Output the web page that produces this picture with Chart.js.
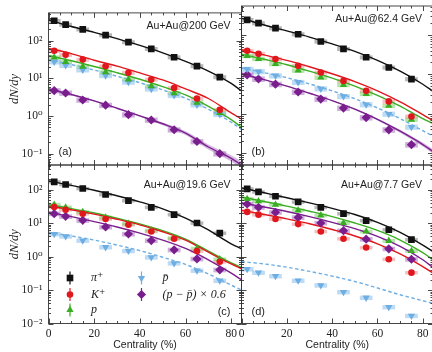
<!DOCTYPE html>
<html>
<head>
<meta charset="utf-8">
<script src="https://cdn.jsdelivr.net/npm/chart.js@4.4.1/dist/chart.umd.min.js"></script>
<style>
  html, body { margin: 0; padding: 0; background: #ffffff; }
  body { width: 432px; height: 352px; overflow: hidden; position: relative; }
  canvas { position: absolute; left: 0; top: 0; }
</style>
</head>
<body>
<canvas id="c0" width="440" height="352"></canvas>
<canvas id="c1" width="440" height="352"></canvas>
<canvas id="c2" width="440" height="352"></canvas>
<canvas id="c3" width="440" height="352"></canvas>
<script>
// ---------- values ----------
const CENT = [2.5, 7.5, 15, 25, 35, 45, 55, 65, 75];           // centrality bin centres (%)
const MODEL_X = [0, 10, 20, 30, 40, 50, 60, 70, 80, 84.5];     // model curve sample points (%)
const X_TICKS = [0, 20, 40, 60, 80];
const Y_TICKS = [0.01, 0.1, 1, 10, 100];
const Y_TICK_LABELS = ['10\u207B\u00B2', '10\u207B\u00B9', '10\u2070', '10\u00B9', '10\u00B2'];
const PANEL_TITLES = ['Au+Au@200 GeV', 'Au+Au@62.4 GeV', 'Au+Au@19.6 GeV', 'Au+Au@7.7 GeV'];
const PANEL_TAGS = ['(a)', '(b)', '(c)', '(d)'];
const SPECIES = ['\u03C0\u207A', 'K\u207A', 'p', 'p\u0304', '(p \u2212 p\u0304) \u00D7 0.6'];
const SYS_REL = [0.12, 0.12, 0.13, 0.15, 0.16];                  // relative systematic uncertainty per species

// Au+Au 200 GeV
const A_PI   = [334, 265, 198, 139, 90.6, 60, 36, 21, 10.7];
const A_K    = [53.6, 41.7, 31.2, 20.7, 14, 9.2, 5.5, 2.9, 1.45];
const A_P    = [35.6, 27.2, 20.4, 14.4, 9.3, 6.2, 4.05, 2.26, 1.2];
const A_PBAR = [27.2, 22, 16.7, 11.8, 7.9, 5.2, 3.5, 1.98, 1.1];
const A_NET  = [4.7, 4.06, 2.65, 1.93, 1.08, 0.78, 0.43, 0.21, 0.10];
const MA_PI   = [355, 235, 165, 112, 74, 47, 28, 15.5, 7.3, 4.6];
const MA_K    = [62, 45, 30, 21, 13.8, 9, 5.2, 2.9, 1.2, 0.83];
const MA_P    = [40, 29, 20.5, 14, 9.4, 6.0, 3.6, 1.8, 0.8, 0.5];
const MA_PBAR = [31, 23, 16.5, 11.3, 7.6, 4.9, 2.95, 1.5, 0.68, 0.44];
const MA_NET  = [5.2, 3.7, 2.5, 1.6, 1.0, 0.62, 0.35, 0.15, 0.075, 0.05];
const BAND_A_HI = [5.3, 3.8, 2.6, 1.66, 1.05, 0.67, 0.39, 0.175, 0.09, 0.062];
const BAND_A_LO = [5.1, 3.6, 2.4, 1.54, 0.95, 0.57, 0.31, 0.128, 0.062, 0.04];

// Au+Au 62.4 GeV
const B_PI   = [240, 198, 148, 104, 68, 44, 27, 14.9, 7.55];
const B_K    = [39.4, 33, 24.3, 16.4, 11.1, 6.8, 3.8, 2.05, 0.85];
const B_P    = [29.4, 24.7, 18.4, 12.5, 8.3, 5.4, 3.2, 1.6, 0.71];
const B_PBAR = [13.5, 11.7, 9.2, 6.3, 4.3, 2.75, 1.7, 0.98, 0.46];
const B_NET  = [9.7, 7.6, 5.6, 3.55, 2.35, 1.39, 0.8, 0.39, 0.164];
const MB_PI   = [265, 178, 126, 88, 59, 38, 22.5, 12, 5.6, 3.7];
const MB_K    = [42, 31, 22.5, 15.5, 10.3, 6.5, 3.8, 2.0, 0.95, 0.67];
const MB_P    = [32.5, 24, 17.5, 12, 8.0, 5.0, 2.9, 1.55, 0.75, 0.56];
const MB_PBAR = [14.4, 11, 8.2, 5.7, 3.8, 2.4, 1.4, 0.75, 0.37, 0.27];
const MB_NET  = [10.3, 7.3, 5.0, 3.3, 2.15, 1.3, 0.72, 0.36, 0.165, 0.11];
const BAND_B_HI = [10.4, 7.4, 5.1, 3.4, 2.2, 1.35, 0.76, 0.39, 0.185, 0.125];
const BAND_B_LO = [10.2, 7.2, 4.9, 3.2, 2.1, 1.25, 0.68, 0.33, 0.147, 0.097];

// Au+Au 19.6 GeV
const C_PI   = [170, 141, 107, 71, 46.7, 29.4, 17.8, 10, 5.0];
const C_K    = [30, 25, 19, 13.2, 8.9, 5.6, 3.4, 1.45, 0.7];
const C_P    = [35.5, 29.4, 21.4, 14.7, 9.6, 6.0, 3.55, 1.73, 0.83];
const C_PBAR = [4.7, 4.0, 3.0, 1.9, 1.47, 0.95, 0.63, 0.38, 0.19];
const C_NET  = [19, 15.8, 12, 7.6, 4.7, 3.0, 1.58, 0.85, 0.40];
const MC_PI   = [180, 133, 95, 65, 43, 26.5, 14, 6.2, 2.4, 1.7];
const MC_K    = [32, 25, 18.5, 13, 8.8, 5.5, 3.1, 1.35, 0.6, 0.43];
const MC_P    = [35, 27, 20, 14, 9.4, 5.9, 3.3, 1.45, 0.65, 0.47];
const MC_PBAR = [5.3, 4.1, 3.1, 2.2, 1.5, 0.95, 0.58, 0.3, 0.14, 0.1];
const MC_NET  = [21, 15.5, 11, 7.6, 5.0, 3.1, 1.75, 0.8, 0.32, 0.2];

// Au+Au 7.7 GeV
const D_PI   = [105, 85, 63, 42.6, 29.4, 19, 11.8, 6.3, 3.2];
const D_K    = [21.5, 17.8, 13.2, 9.3, 5.6, 3.4, 1.85, 0.83, 0.33];
const D_P    = [52.6, 44.6, 35.5, 24, 17, 10, 5.6, 2.95, 1.47];
const D_PBAR = [0.42, 0.33, 0.26, 0.19, 0.138, 0.087, 0.059, 0.031, 0.017];
const D_NET  = [37, 29.4, 20.8, 14.7, 10, 5.9, 3.3, 1.7, 0.83];
const MD_PI   = [112, 80, 57, 40, 27.5, 18, 10.5, 5.3, 2.2, 1.4];
const MD_K    = [24, 18, 13.3, 9.5, 6.4, 4.1, 2.4, 1.2, 0.5, 0.32];
const MD_P    = [60, 44, 32, 22.5, 15.5, 10, 6.0, 3.1, 1.3, 0.8];
const MD_PBAR = [0.7, 0.6, 0.48, 0.36, 0.26, 0.18, 0.115, 0.072, 0.048, 0.04];
const MD_NET  = [40, 30, 22, 15.5, 10.5, 6.8, 4.0, 2.0, 0.8, 0.47];

// ---------- styling ----------
const W = 440, H = 352;
const X_MAX = 84.5;
const BOX_HALF = 2.8;
const SERIF = "'Liberation Serif', 'DejaVu Serif', serif";
const SANS = "'Liberation Sans', 'DejaVu Sans', sans-serif";
const INK = '#222222';
const STYLE = [
  { color: '#111111', box: 'rgba(110,110,110,0.50)', point: 'rect',     radius: 4.7, rotation: 0,   dash: [] },
  { color: '#e0171c', box: 'rgba(238,112,112,0.45)', point: 'circle',   radius: 3.3, rotation: 0,   dash: [] },
  { color: '#3aae22', box: 'rgba(125,205,105,0.55)', point: 'triangle', radius: 4.2, rotation: 0,   dash: [] },
  { color: '#6eaee2', box: 'rgba(135,190,235,0.55)', point: 'triangle', radius: 4.2, rotation: 180, dash: [3.5, 2.5] },
  { color: '#7a1e8e', box: 'rgba(160,95,185,0.50)',  point: 'rectRot',  radius: 4.6, rotation: 0,   dash: [] }
];

const PANELS = [
  { data: [A_PI, A_K, A_P, A_PBAR, A_NET], model: [MA_PI, MA_K, MA_P, MA_PBAR, MA_NET], band: [BAND_A_HI, BAND_A_LO],
    ymin: 0.05, ymax: 540, area: { left: 48.5, right: 241.5, top: 6, bottom: 165 }, yLabels: true, xLabels: false,
    tagLeft: true, titleDy: 13.5, tagDy: 13 },
  { data: [B_PI, B_K, B_P, B_PBAR, B_NET], model: [MB_PI, MB_K, MB_P, MB_PBAR, MB_NET], band: [BAND_B_HI, BAND_B_LO],
    ymin: 0.05, ymax: 540, area: { left: 241.5, right: 433, top: 6, bottom: 165 }, yLabels: false, xLabels: false,
    tagLeft: true, titleDy: 13.5, tagDy: 13 },
  { data: [C_PI, C_K, C_P, C_PBAR, C_NET], model: [MC_PI, MC_K, MC_P, MC_PBAR, MC_NET], band: null,
    ymin: 0.01, ymax: 540, area: { left: 48.5, right: 241.5, top: 165, bottom: 323.5 }, yLabels: true, xLabels: true,
    tagLeft: false, titleDy: 20, tagDy: 11.5, legend: true },
  { data: [D_PI, D_K, D_P, D_PBAR, D_NET], model: [MD_PI, MD_K, MD_P, MD_PBAR, MD_NET], band: null,
    ymin: 0.01, ymax: 540, area: { left: 241.5, right: 433, top: 165, bottom: 323.5 }, yLabels: false, xLabels: true,
    tagLeft: true, titleDy: 20, tagDy: 11.5 }
];

// systematic-uncertainty boxes, drawn under lines and markers
const sysBoxes = {
  id: 'sysBoxes',
  beforeDatasetsDraw(chart) {
    const { ctx, chartArea: a, scales: { x, y } } = chart;
    ctx.save();
    ctx.beginPath();
    ctx.rect(a.left, a.top, a.right - a.left, a.bottom - a.top);
    ctx.clip();
    chart.data.datasets.forEach(ds => {
      if (!ds.sysRel) return;
      ctx.fillStyle = ds.boxColor;
      ds.data.forEach(p => {
        const x0 = x.getPixelForValue(p.x - BOX_HALF);
        const x1 = x.getPixelForValue(p.x + BOX_HALF);
        const y0 = y.getPixelForValue(p.y * (1 + ds.sysRel));
        const y1 = y.getPixelForValue(p.y * (1 - ds.sysRel));
        ctx.fillRect(x0, y0, x1 - x0, y1 - y0);
      });
    });
    ctx.restore();
  }
};

// frame with inward ticks on all four sides, panel title, panel tag and legend
const frameAndText = {
  id: 'frameAndText',
  afterDraw(chart) {
    const { ctx, chartArea: a, scales: { x, y } } = chart;
    const P = chart.options.plugins.frameAndText.panel;
    ctx.save();
    ctx.strokeStyle = '#333333';
    ctx.lineWidth = 0.9;
    ctx.strokeRect(a.left, a.top, a.right - a.left, a.bottom - a.top);
    ctx.beginPath();
    const lo = Math.floor(Math.log10(y.min)), hi = Math.ceil(Math.log10(y.max));
    for (let e = lo; e <= hi; e++) {
      for (let m = 1; m <= 9; m++) {
        const v = m * Math.pow(10, e);
        if (v < y.min || v > y.max) continue;
        const py = Math.round(y.getPixelForValue(v)) + 0.5;
        const len = m === 1 ? 5 : 2.5;
        ctx.moveTo(a.left, py); ctx.lineTo(a.left + len, py);
        ctx.moveTo(a.right, py); ctx.lineTo(a.right - len, py);
      }
    }
    for (let v = 0; v <= x.max; v += 5) {
      const px = Math.round(x.getPixelForValue(v)) + 0.5;
      const len = v % 20 === 0 ? 5 : 2.5;
      ctx.moveTo(px, a.bottom); ctx.lineTo(px, a.bottom - len);
      ctx.moveTo(px, a.top); ctx.lineTo(px, a.top + len);
    }
    ctx.stroke();

    ctx.fillStyle = INK;
    ctx.font = '10.5px ' + SANS;
    ctx.textBaseline = 'middle';
    ctx.textAlign = 'right';
    ctx.fillText(P.title, a.right - 11, a.top + P.titleDy);
    ctx.font = '11px ' + SANS;
    if (P.tagLeft) { ctx.textAlign = 'left'; ctx.fillText(P.tag, a.left + 10, a.bottom - P.tagDy); }
    else { ctx.textAlign = 'right'; ctx.fillText(P.tag, a.right - 11, a.bottom - P.tagDy); }

    if (P.legend) {
      const cols = [[0, 1, 2], [3, 4]];
      const colX = [a.left + 21.5, a.left + 93];
      const rowY = [a.top + 113, a.top + 129.5, a.top + 145];
      cols.forEach((items, ci) => {
        items.forEach((s, ri) => {
          const st = STYLE[s];
          const mx = colX[ci], my = rowY[ri];
          ctx.strokeStyle = st.color;
          ctx.lineWidth = 1.2;
          ctx.beginPath();
          ctx.moveTo(mx, my - 6.5); ctx.lineTo(mx, my + 6.5);
          ctx.stroke();
          ctx.fillStyle = st.color;
          Chart.helpers.drawPoint(ctx, { pointStyle: st.point, rotation: st.rotation, radius: st.radius, borderWidth: 0 }, mx, my);
          ctx.fillStyle = INK;
          ctx.font = 'italic 12px ' + SERIF;
          ctx.textAlign = 'left';
          ctx.textBaseline = 'middle';
          ctx.fillText(SPECIES[s], mx + 21, my);
        });
      });
    }
    ctx.restore();
  }
};

function buildPanel(i) {
  const P = PANELS[i];
  const datasets = [];
  P.data.forEach((vals, s) => {
    const st = STYLE[s];
    datasets.push({
      type: 'scatter', label: SPECIES[s],
      data: CENT.map((c, k) => ({ x: c, y: vals[k] })),
      pointStyle: st.point, pointRadius: st.radius, pointRotation: st.rotation,
      backgroundColor: st.color, borderColor: st.color, borderWidth: 0,
      showLine: false, order: 0, sysRel: SYS_REL[s], boxColor: st.box
    });
  });
  P.model.forEach((vals, s) => {
    const st = STYLE[s];
    datasets.push({
      type: 'line', data: MODEL_X.map((mx, k) => ({ x: mx, y: vals[k] })),
      borderColor: st.color, borderWidth: 1.4, borderDash: st.dash,
      pointRadius: 0, cubicInterpolationMode: 'monotone', fill: false, order: 1
    });
  });
  if (P.band) {
    datasets.push({
      type: 'line', data: MODEL_X.map((mx, k) => ({ x: mx, y: P.band[0][k] })),
      borderWidth: 0, pointRadius: 0, cubicInterpolationMode: 'monotone',
      backgroundColor: 'rgba(150,80,175,0.40)', fill: '+1', order: 2
    });
    datasets.push({
      type: 'line', data: MODEL_X.map((mx, k) => ({ x: mx, y: P.band[1][k] })),
      borderWidth: 0, pointRadius: 0, cubicInterpolationMode: 'monotone', fill: false, order: 2
    });
  }

  const ar = P.area;
  const xHeight = P.xLabels ? H - ar.bottom : 0;
  const yWidth = P.yLabels ? ar.left : 0;

  new Chart(document.getElementById('c' + i), {
    type: 'scatter',
    data: { datasets },
    options: {
      responsive: false, animation: false, devicePixelRatio: 1, events: [],
      layout: { padding: { left: P.yLabels ? 0 : ar.left, right: W - ar.right, top: ar.top, bottom: P.xLabels ? 0 : H - ar.bottom } },
      plugins: {
        legend: { display: false }, tooltip: { enabled: false },
        frameAndText: { panel: { title: PANEL_TITLES[i], tag: PANEL_TAGS[i], tagLeft: P.tagLeft,
                                 titleDy: P.titleDy, tagDy: P.tagDy, legend: !!P.legend } }
      },
      scales: {
        x: {
          type: 'linear', min: 0, max: X_MAX,
          grid: { display: false, drawTicks: false }, border: { display: false },
          afterBuildTicks: s => { s.ticks = X_TICKS.map(v => ({ value: v })); },
          afterFit: s => { s.height = xHeight; },
          ticks: { display: P.xLabels, padding: 4, color: INK, font: { family: SERIF, size: 11.5 }, maxRotation: 0 },
          title: { display: P.xLabels, text: 'Centrality (%)', color: INK,
                   font: { family: SANS, size: 10.5, lineHeight: 1.2 }, padding: { top: 0, bottom: 0.5 } }
        },
        y: {
          type: 'logarithmic', min: P.ymin, max: P.ymax,
          grid: { display: false, drawTicks: false }, border: { display: false },
          afterBuildTicks: s => { s.ticks = Y_TICKS.filter(v => v >= P.ymin && v <= P.ymax).map(v => ({ value: v })); },
          afterFit: s => { s.width = yWidth; },
          ticks: {
            display: P.yLabels, padding: 6, color: INK, font: { family: SERIF, size: 11.5 },
            callback: v => { const k = Y_TICKS.findIndex(t => Math.abs(t - v) < t * 1e-6); return k >= 0 ? Y_TICK_LABELS[k] : ''; }
          },
          title: { display: P.yLabels, text: 'dN/dy', color: INK,
                   font: { family: SERIF, size: 12.5, style: 'italic', lineHeight: 1.2 }, padding: { top: 7, bottom: 0 } }
        }
      }
    },
    plugins: [sysBoxes, frameAndText]
  });
}

PANELS.forEach((_, i) => buildPanel(i));
</script>
</body>
</html>
